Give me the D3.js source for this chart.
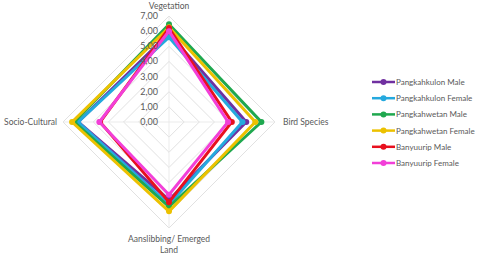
<!DOCTYPE html>
<html lang="en">
<head>
<meta charset="UTF-8">
<title>Radar chart</title>
<script src="https://cdn.jsdelivr.net/npm/d3@7/dist/d3.min.js"></script>
<style>
  body { margin: 0; background: #fff; font-family: Lato, "Open Sans", sans-serif; }
  text { fill: #595959; }
</style>
</head>
<body>
<svg id="viz" width="480" height="256"></svg>
<script>
  const axes = ["Vegetation", "Bird Species", "Aanslibbing/ Emerged Land", "Socio-Cultural"];
  const seriesNames = ["Pangkahkulon Male", "Pangkahkulon Female", "Pangkahwetan Male",
    "Pangkahwetan Female", "Banyuurip Male", "Banyuurip Female"];
  const pangkahkulonMale = [5.85, 5.1, 5.15, 6.0];
  const pangkahkulonFemale = [5.6, 4.85, 5.45, 6.0];
  const pangkahwetanMale = [6.45, 6.1, 5.6, 6.25];
  const pangkahwetanFemale = [6.25, 5.7, 5.9, 6.4];
  const banyuuripMale = [6.2, 4.15, 5.3, 4.55];
  const banyuuripFemale = [6.0, 3.9, 4.8, 4.6];
  const tickValues = [0, 1, 2, 3, 4, 5, 6, 7];
  const colors = ["#7030a0", "#25a9de", "#1fa84f", "#ecc100", "#e8101e", "#f23fd8"];

  const seriesValues = [pangkahkulonMale, pangkahkulonFemale, pangkahwetanMale,
    pangkahwetanFemale, banyuuripMale, banyuuripFemale];

  const cx = 169, cy = 122;
  const svg = d3.select("#viz");
  const r = d3.scaleLinear().domain([0, 7]).range([0, 106]);
  const angle = d3.scaleBand().domain(axes).range([0, 2 * Math.PI]).align(0).paddingInner(0).paddingOuter(0);
  const ang = a => angle(a) - Math.PI / 2;
  const pt = (a, v) => [cx + r(v) * Math.cos(ang(a)), cy + r(v) * Math.sin(ang(a))];

  // grid rings
  svg.append("g").selectAll("polygon")
    .data(tickValues.slice(1))
    .join("polygon")
      .attr("points", v => axes.map(a => pt(a, v).join(",")).join(" "))
      .attr("fill", "none")
      .attr("stroke", "#d9d9d9")
      .attr("stroke-width", 0.8);

  svg.append("g").selectAll("line")
    .data(axes)
    .join("line")
      .attr("x1", cx).attr("y1", cy)
      .attr("x2", a => pt(a, 7)[0]).attr("y2", a => pt(a, 7)[1])
      .attr("stroke", "#e6e6e6")
      .attr("stroke-width", 0.8);

  // series
  const line = d3.line().curve(d3.curveLinearClosed);
  const gSeries = svg.append("g").selectAll("g")
    .data(seriesValues)
    .join("g");

  gSeries.append("path")
    .attr("d", vals => line(axes.map((a, i) => pt(a, vals[i]))))
    .attr("fill", "none")
    .attr("stroke", (d, i) => colors[i])
    .attr("stroke-width", 3)
    .attr("stroke-linejoin", "miter");

  gSeries.selectAll("circle")
    .data((vals, i) => vals.map((v, j) => ({ v: v, a: axes[j], c: colors[i] })))
    .join("circle")
      .attr("cx", d => pt(d.a, d.v)[0])
      .attr("cy", d => pt(d.a, d.v)[1])
      .attr("r", 3)
      .attr("fill", d => d.c);

  // tick labels
  svg.append("g").selectAll("text")
    .data(tickValues)
    .join("text")
      .attr("x", cx - 11)
      .attr("y", v => cy - r(v) + 3)
      .attr("text-anchor", "end")
      .attr("font-size", 9)
      .text(v => v.toFixed(2).replace(".", ","));

  // axis labels
  const lab = svg.append("g").attr("font-size", 8.5);
  lab.append("text").attr("x", cx).attr("y", 9).attr("text-anchor", "middle").text(axes[0]);
  lab.append("text").attr("x", pt(axes[1], 7)[0] + 8).attr("y", cy + 3).text(axes[1]);
  lab.append("text").attr("x", cx).attr("y", 242).attr("text-anchor", "middle").text("Aanslibbing/ Emerged");
  lab.append("text").attr("x", cx).attr("y", 253).attr("text-anchor", "middle").text("Land");
  lab.append("text").attr("x", pt(axes[3], 7)[0] - 6).attr("y", cy + 3).attr("text-anchor", "end").text(axes[3]);

  // legend
  const legY = d3.scalePoint().domain(seriesNames).range([82, 163]);
  const leg = svg.append("g").selectAll("g")
    .data(seriesNames)
    .join("g")
      .attr("transform", d => `translate(372,${legY(d)})`);
  leg.append("line")
    .attr("x1", 0).attr("x2", 23)
    .attr("stroke", (d, i) => colors[i])
    .attr("stroke-width", 2.5);
  leg.append("circle")
    .attr("cx", 11.5).attr("r", 3)
    .attr("fill", (d, i) => colors[i]);
  leg.append("text")
    .attr("x", 24).attr("y", 3)
    .attr("font-size", 8)
    .text(d => d);
</script>
</body>
</html>
